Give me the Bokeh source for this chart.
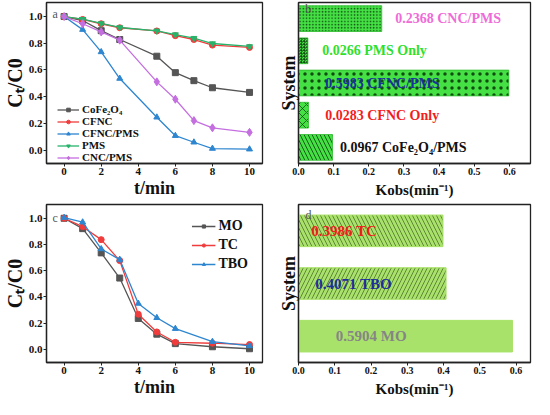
from bokeh.plotting import figure
from bokeh.layouts import gridplot
from bokeh.models import Range1d, FixedTicker, PrintfTickFormatter, Label
from bokeh.embed import file_html
from bokeh.resources import INLINE
from bokeh.core.properties import value

FONT = "Liberation Serif"

# ---------------- data ----------------
# panel a
t_a = [0, 1, 2, 3, 5, 6, 7, 8, 10]
cofe2o4 = [1.0, 0.970, 0.894, 0.828, 0.703, 0.580, 0.520, 0.467, 0.432]
cfnc = [1.0, 0.978, 0.946, 0.916, 0.892, 0.857, 0.828, 0.786, 0.769]
cfnc_pms = [1.0, 0.902, 0.735, 0.536, 0.246, 0.108, 0.059, 0.012, 0.007]
pms = [1.0, 0.980, 0.948, 0.918, 0.893, 0.865, 0.838, 0.798, 0.776]
cnc_pms = [1.0, 0.946, 0.885, 0.823, 0.511, 0.381, 0.221, 0.167, 0.133]

# panel b (bottom to top)
systems_b = ["CoFe₂O₄/PMS", "CFNC Only", "CFNC/PMS", "PMS Only", "CNC/PMS"]
kobs_b = [0.0967, 0.0283, 0.5983, 0.0266, 0.2368]

# panel c
t_c = [0, 1, 2, 3, 4, 5, 6, 8, 10]
mo = [1.0, 0.921, 0.736, 0.544, 0.236, 0.116, 0.044, 0.020, 0.005]
tc = [1.0, 0.936, 0.837, 0.677, 0.268, 0.133, 0.054, 0.047, 0.037]
tbo = [1.005, 0.970, 0.766, 0.685, 0.350, 0.241, 0.158, 0.059, 0.027]

# panel d (bottom to top)
systems_d = ["MO", "TBO", "TC"]
kobs_d = [0.5904, 0.4071, 0.3986]

# ---------------- styling ----------------
label_x_b = [0.118, 0.076, 0.076, 0.0675, 0.275]
label_color_b = ["#111111", "#f21d1d", "#1c2f9c", "#2ee02e", "#f06ad8"]
hatch_b = ["left_diagonal_line", "diagonal_cross", "dot", "criss_cross", "dot"]
hatch_scale_b = [8, 8, 7, 3, 3.2]
hatch_weight_b = [0.9, 0.8, 0.5, 0.6, 0.45]

label_x_d = [0.103, 0.046, 0.035]
label_color_d = ["#858585", "#1c2f9c", "#f21d1d"]
hatch_d = [None, "right_diagonal_line", "left_diagonal_line"]


def style(p):
    p.xgrid.visible = False
    p.ygrid.visible = False
    p.outline_line_color = "#222222"
    p.outline_line_width = 1.3
    p.outline_line_alpha = 1.0
    p.background_fill_color = "white"
    p.border_fill_color = "white"
    for ax in p.axis:
        ax.axis_line_color = "#222222"
        ax.axis_line_width = 1.3
        ax.major_tick_line_color = "#222222"
        ax.major_tick_out = 3
        ax.major_tick_in = 0
        ax.minor_tick_line_color = None
        ax.major_label_text_font = FONT
        ax.major_label_text_font_style = "bold"
        ax.major_label_text_color = "#111111"
        ax.major_label_standoff = 1
        ax.axis_label_text_font = FONT
        ax.axis_label_text_font_style = "bold"
        ax.axis_label_text_color = "#111111"
        ax.axis_label_standoff = 0


def curve_fig(w, h, mbt, mbb):
    p = figure(width=w, height=h, x_range=Range1d(-0.95, 10.7), y_range=Range1d(-0.1, 1.105),
               output_backend="svg", toolbar_location=None,
               min_border_left=36, min_border_right=4, min_border_top=mbt, min_border_bottom=mbb)
    style(p)
    p.xaxis.ticker = FixedTicker(ticks=[0, 2, 4, 6, 8, 10])
    p.yaxis.ticker = FixedTicker(ticks=[0.0, 0.2, 0.4, 0.6, 0.8, 1.0])
    p.yaxis.formatter = PrintfTickFormatter(format="%.1f")
    p.xaxis.major_label_text_font_size = "11px"
    p.yaxis.major_label_text_font_size = "11px"
    p.xaxis.axis_label = "t/min"
    p.yaxis.axis_label = "Cₜ/C0"
    p.xaxis.axis_label_text_font_size = "18px"
    p.yaxis.axis_label_text_font_size = "20px"
    return p


def bar_fig(w, h, mbt, mbb, xmax, n):
    p = figure(width=w, height=h, x_range=Range1d(0, xmax), y_range=Range1d(0.5, n + 0.5),
               output_backend="svg", toolbar_location=None,
               min_border_left=32, min_border_right=4, min_border_top=mbt, min_border_bottom=mbb)
    style(p)
    p.xaxis.ticker = FixedTicker(ticks=[0.0, 0.1, 0.2, 0.3, 0.4, 0.5, 0.6])
    p.xaxis.formatter = PrintfTickFormatter(format="%.1f")
    p.xaxis.major_label_text_font_size = "10px"
    p.yaxis.ticker = FixedTicker(ticks=[])
    p.yaxis.major_label_text_font_size = "0px"
    p.yaxis.major_tick_out = 0
    p.yaxis.major_label_standoff = 0
    p.xaxis.axis_label = "Kobs(min⁻¹)"
    p.yaxis.axis_label = "System"
    p.xaxis.axis_label_standoff = 4
    p.xaxis.axis_label_text_font_size = "15px"
    p.yaxis.axis_label_text_font_size = "18px"
    return p


def panel_letter(p, x, y, t):
    p.add_layout(Label(x=x, y=y, text=t, text_font=FONT, text_font_size="12px",
                       text_color="#555555", text_baseline="middle", text_align="left"))


# ---------------- panel a ----------------
pa = curve_fig(266, 200, 2, 30)
series_a = [
    ("CoFe₂O₄", cofe2o4, "#555555", "square"),
    ("CFNC", cfnc, "#f03c3c", "circle"),
    ("CFNC/PMS", cfnc_pms, "#2e86d0", "triangle"),
    ("PMS", pms, "#27b36b", "inverted_triangle"),
    ("CNC/PMS", cnc_pms, "#c46ee0", "diamond"),
]
for name, ys, col, mk in series_a:
    pa.line(t_a, ys, line_color=col, line_width=1.3, legend_label=name)
    pa.scatter(t_a, ys, marker=mk, size=6 if mk != "diamond" else 8, fill_color=col,
               line_color=col, legend_label=name)
pa.legend.background_fill_alpha = 0
pa.legend.border_line_color = None
pa.legend.label_text_font = FONT
pa.legend.label_text_font_style = "bold"
pa.legend.label_text_font_size = "11px"
pa.legend.label_text_color = "#111111"
pa.legend.glyph_width = 22
pa.legend.glyph_height = 9
pa.legend.label_height = 9
pa.legend.spacing = 0
pa.legend.padding = 0
pa.legend.margin = 0
pa.legend.label_standoff = 3
pa.legend.location = (11, 0)
panel_letter(pa, -0.62, 1.02, "a")

# ---------------- panel b ----------------
pb = bar_fig(268, 200, 2, 30, 0.66, len(systems_b))
ypos_b = list(range(1, len(systems_b) + 1))
for i in range(len(systems_b)):
    pb.hbar(y=[ypos_b[i]], right=[kobs_b[i]], left=0, height=0.8,
            fill_color="#44e044", line_color="#2ebd2e", line_width=0.8,
            hatch_pattern=hatch_b[i], hatch_scale=hatch_scale_b[i],
            hatch_color="#0b3d0b", hatch_weight=hatch_weight_b[i], hatch_alpha=0.9)
texts_b = [f"{v:.4f} {s}" for v, s in zip(kobs_b, systems_b)]
pb.text(x=label_x_b, y=ypos_b, text=texts_b, text_color=label_color_b,
        text_font=value(FONT), text_font_style="bold", text_font_size="14px",
        text_baseline="middle", text_align="left")
panel_letter(pb, 0.019, 5.3, "b")

# ---------------- panel c ----------------
pc = curve_fig(266, 199, 4, 28)
series_c = [
    ("MO", mo, "#555555", "square"),
    ("TC", tc, "#f03c3c", "circle"),
    ("TBO", tbo, "#2e86d0", "triangle"),
]
for name, ys, col, mk in series_c:
    pc.line(t_c, ys, line_color=col, line_width=1.3, legend_label=name)
    pc.scatter(t_c, ys, marker=mk, size=6, fill_color=col, line_color=col, legend_label=name)
pc.legend.location = "top_right"
pc.legend.background_fill_alpha = 0
pc.legend.border_line_color = None
pc.legend.label_text_font = FONT
pc.legend.label_text_font_style = "bold"
pc.legend.label_text_font_size = "14px"
pc.legend.label_text_line_height = 0.85
pc.legend.label_text_color = "#111111"
pc.legend.glyph_width = 24
pc.legend.glyph_height = 8
pc.legend.label_height = 8
pc.legend.spacing = 3
pc.legend.padding = 0
pc.legend.margin = 14
pc.legend.label_standoff = 3
panel_letter(pc, -0.62, 1.0, "c")

# ---------------- panel d ----------------
pd_ = bar_fig(268, 199, 4, 28, 0.64, len(systems_d))
ypos_d = list(range(1, len(systems_d) + 1))
for i in range(len(systems_d)):
    kw = {}
    if hatch_d[i]:
        kw = dict(hatch_pattern=hatch_d[i], hatch_scale=8, hatch_color="#3b5a22",
                  hatch_weight=0.8, hatch_alpha=0.85)
    pd_.hbar(y=[ypos_d[i]], right=[kobs_d[i]], left=0, height=0.6,
             fill_color="#a9e26a", line_color="#a9e26a", **kw)
texts_d = [f"{v:.4f} {s}" for v, s in zip(kobs_d, systems_d)]
pd_.text(x=label_x_d, y=ypos_d, text=texts_d, text_color=label_color_d,
         text_font=value(FONT), text_font_style="bold", text_font_size="15px",
         text_baseline="middle", text_align="left")
panel_letter(pd_, 0.019, 3.3, "d")

grid = gridplot([[pa, pb], [pc, pd_]], toolbar_location=None)

open("out.html", "w").write(file_html(grid, INLINE))
